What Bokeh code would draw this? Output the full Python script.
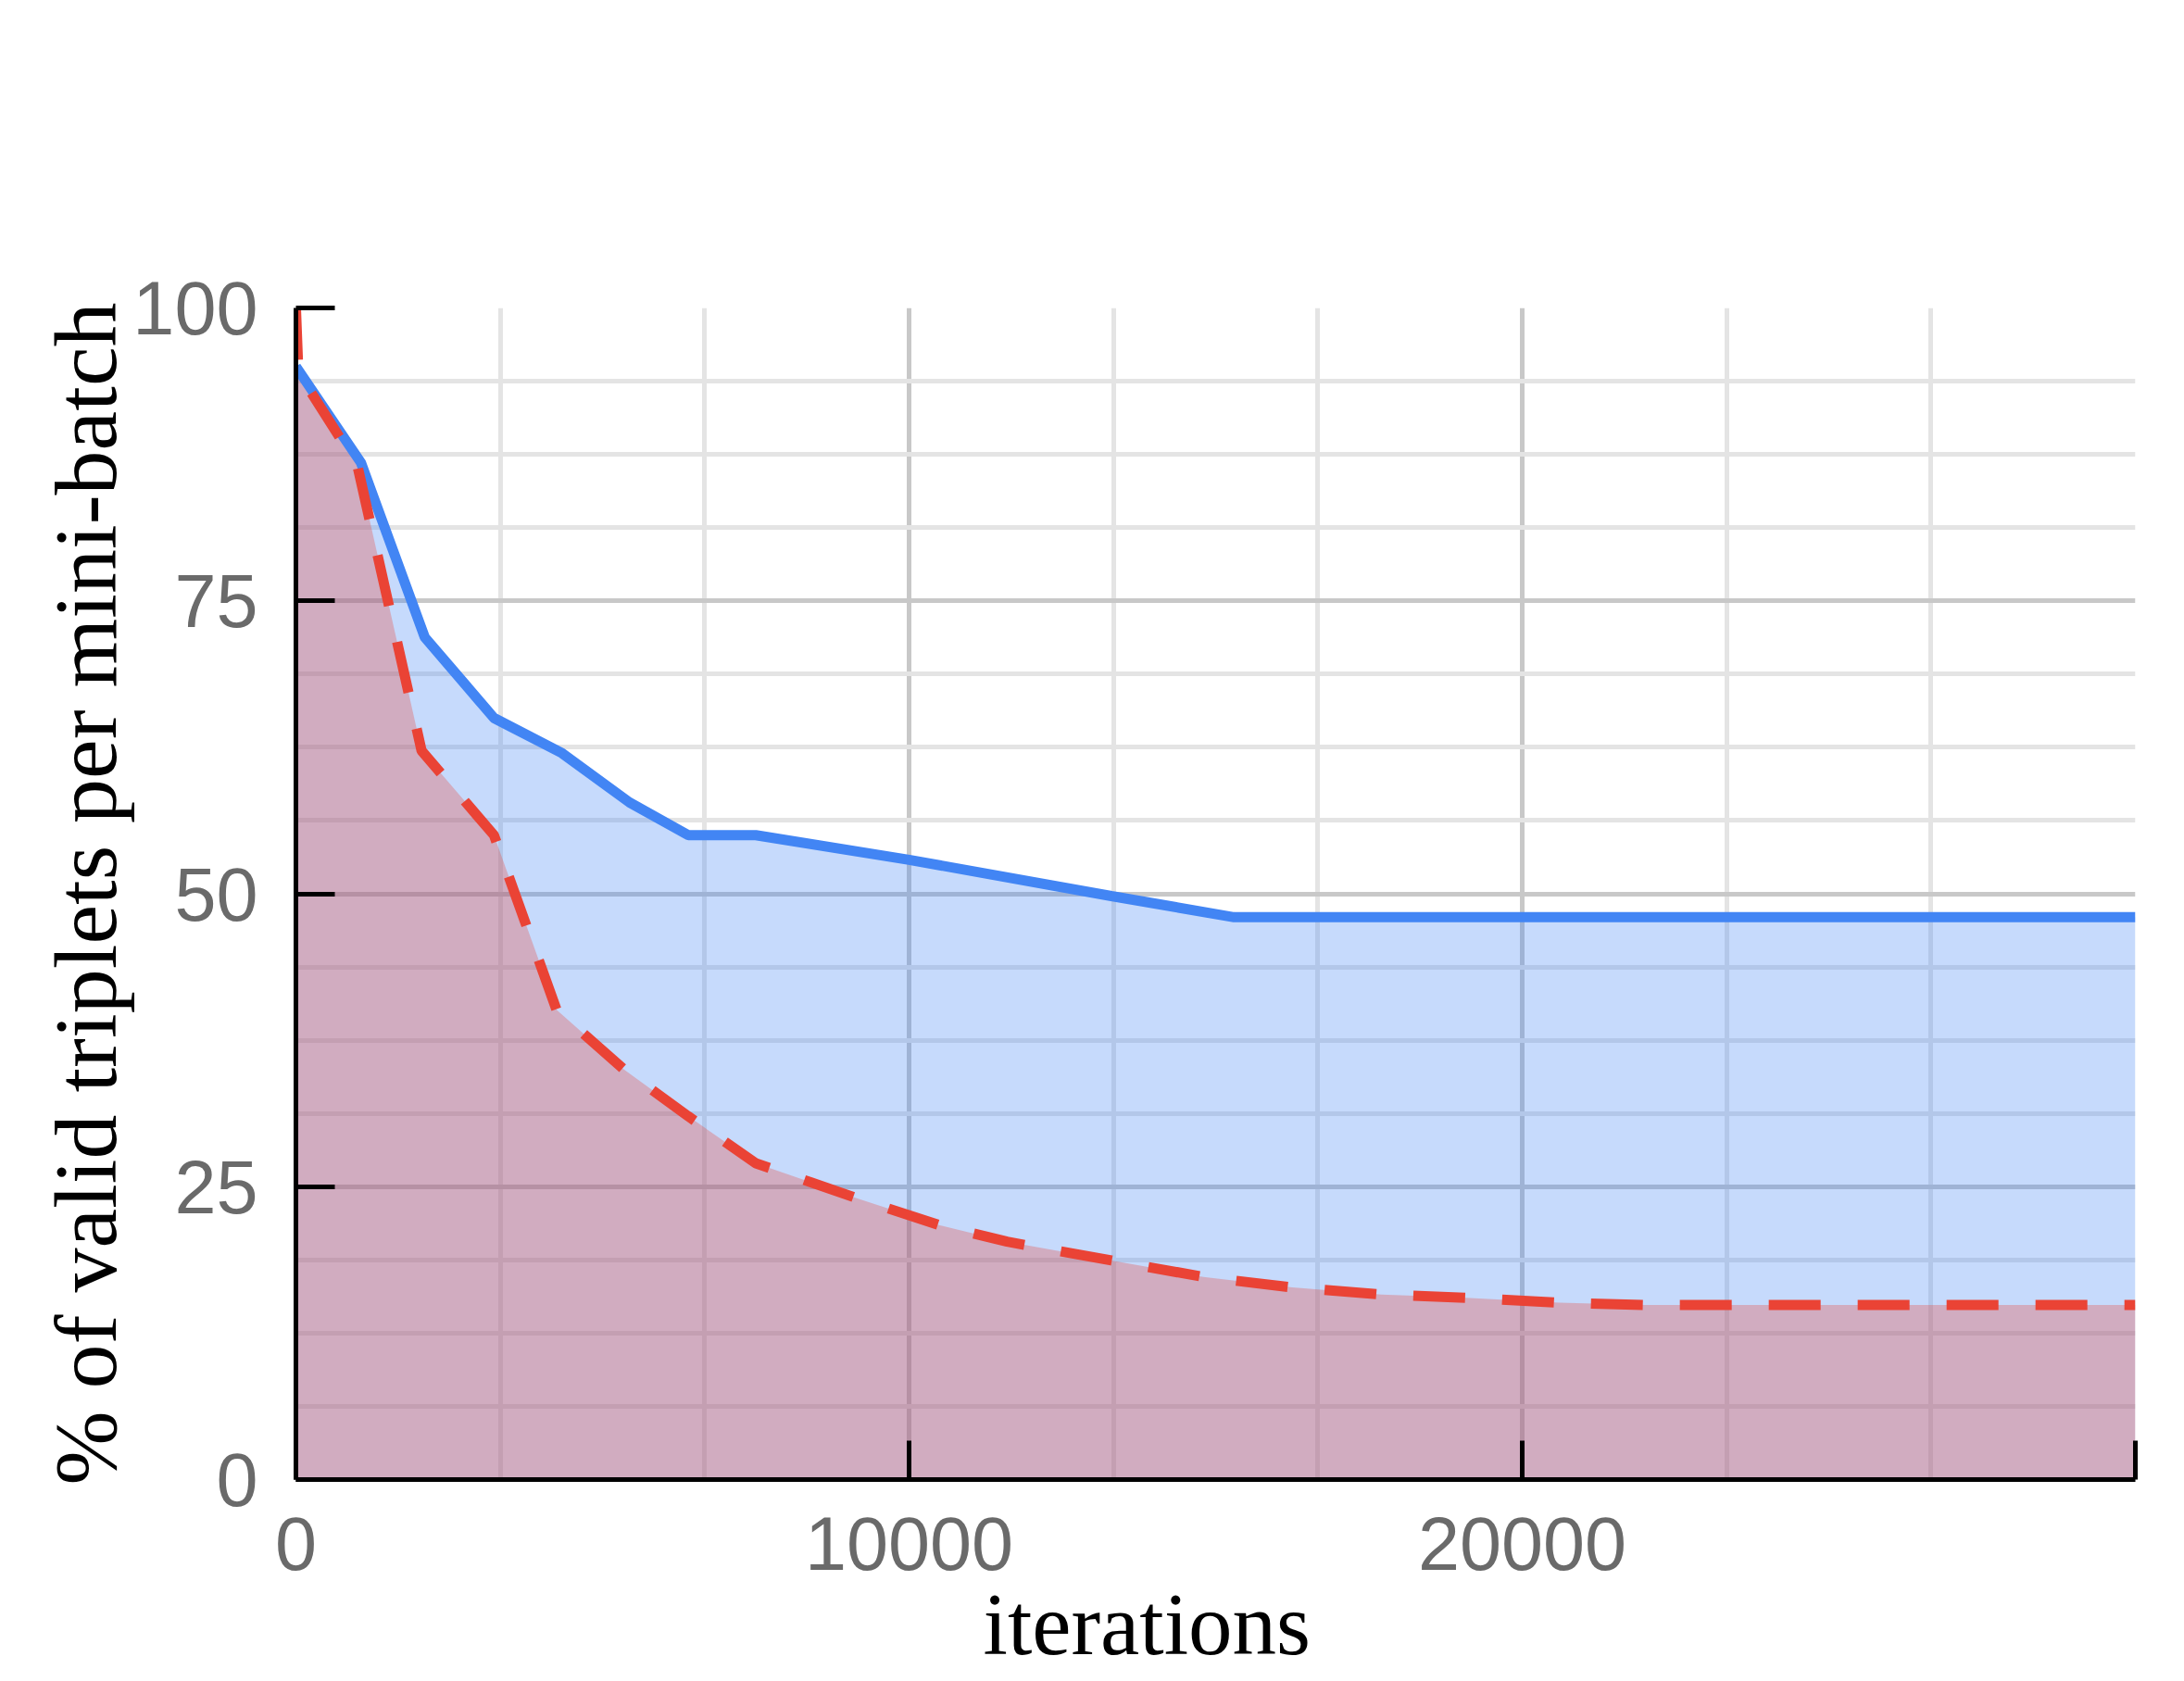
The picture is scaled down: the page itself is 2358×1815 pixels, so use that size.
import numpy as np
from bokeh.plotting import figure
from bokeh.models import Range1d, FixedTicker, Title
from bokeh.embed import file_html
from bokeh.resources import INLINE

# ---- data ----
blue_iter = [0, 1060, 2100, 3230, 4340, 5440, 6400, 7500, 10000, 13300, 15300, 30000]
blue_pct = [95.0, 86.8, 71.9, 65.0, 62.0, 57.8, 55.0, 55.0, 52.9, 49.8, 48.0, 48.0]

red_iter = [0, 40, 1000, 2050, 3230, 4250, 5350, 6400, 7500, 9100, 10500, 11600,
            13300, 14800, 16250, 17700, 19150, 20600, 22000, 30000]
red_pct = [100.0, 94.5, 86.6, 62.2, 55.0, 40.1, 35.0, 31.0, 27.0, 24.1, 21.7, 20.3,
           18.7, 17.3, 16.4, 15.8, 15.5, 15.1, 14.9, 14.9]

x_ticks = [0, 10000, 20000, 30000]
x_tick_labels = {0: "0", 10000: "10000", 20000: "20000", 30000: ""}
y_ticks = [0, 25, 50, 75, 100]
x_title = "iterations"
y_title = "% of valid triplets per mini-batch"

BLUE = "#4285F4"
RED = "#EA4335"

W, H = 2342, 1812
p = figure(width=W, height=H, x_range=Range1d(0, 30000), y_range=Range1d(0, 100),
           output_backend="svg", toolbar_location=None, title=None,
           min_border_left=319, min_border_right=37, min_border_top=332,
           min_border_bottom=215)
p.outline_line_color = None
p.background_fill_color = "white"
p.border_fill_color = "white"

# fills
p.varea(x=blue_iter, y1=0, y2=blue_pct, fill_color=BLUE, fill_alpha=0.3)
p.varea(x=red_iter, y1=0, y2=red_pct, fill_color=RED, fill_alpha=0.3)
# lines
p.line(blue_iter, blue_pct, line_color=BLUE, line_width=11)
p.line(red_iter, red_pct, line_color=RED, line_width=11, line_dash="56 40")

# grids
x_minor = [v for v in np.linspace(0, 30000, 10) if not any(abs(v - t) < 1 for t in x_ticks)]
y_minor = [v for v in np.arange(0, 100.01, 6.25) if not any(abs(v - t) < 0.01 for t in y_ticks)]
p.xgrid.ticker = FixedTicker(ticks=x_ticks, minor_ticks=x_minor)
p.ygrid.ticker = FixedTicker(ticks=y_ticks, minor_ticks=y_minor)
for g in (p.xgrid[0], p.ygrid[0]):
    g.grid_line_color = "#c8c8c8"
    g.grid_line_width = 5
    g.minor_grid_line_color = "#e4e4e4"
    g.minor_grid_line_width = 5

# axes
p.xaxis.ticker = FixedTicker(ticks=x_ticks)
p.yaxis.ticker = FixedTicker(ticks=y_ticks)
p.xaxis.major_label_overrides = x_tick_labels
for ax in (p.xaxis[0], p.yaxis[0]):
    ax.axis_line_color = "black"
    ax.axis_line_width = 5
    ax.major_tick_in = 42
    ax.major_tick_out = 0
    ax.major_tick_line_color = "black"
    ax.major_tick_line_width = 5
    ax.minor_tick_line_color = None
    ax.major_label_text_font = "Liberation Sans"
    ax.major_label_text_font_size = "81px"
    ax.major_label_text_color = "#6a6a6a"
p.yaxis.major_label_standoff = 41
p.xaxis.major_label_standoff = 40

# axis titles
p.yaxis.axis_label = y_title
p.yaxis.axis_label_text_font = "Liberation Serif"
p.yaxis.axis_label_text_font_size = "96px"
p.yaxis.axis_label_text_font_style = "normal"
p.yaxis.axis_label_text_color = "black"
p.yaxis.axis_label_standoff = -6

p.add_layout(Title(text=x_title, align="left", offset=742, standoff=2,
                   text_font="Liberation Serif", text_font_size="95px",
                   text_font_style="normal", text_color="black"), "below")

open("out.html", "w").write(file_html(p, INLINE))
